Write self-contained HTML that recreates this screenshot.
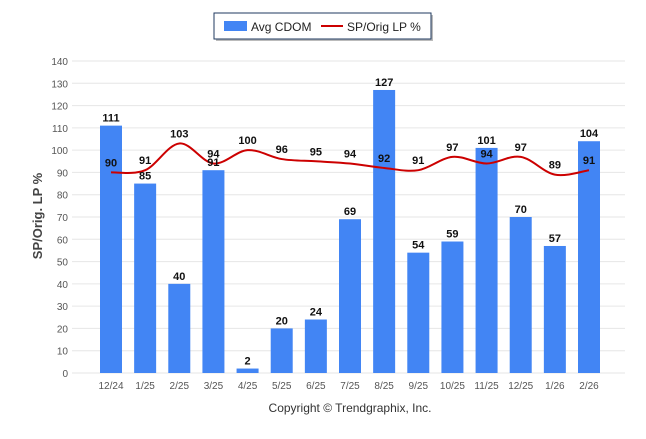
<!DOCTYPE html>
<html><head><meta charset="utf-8"><style>
body{margin:0;background:#fff;width:646px;height:434px;overflow:hidden;font-family:"Liberation Sans",sans-serif}
</style></head><body>
<svg width="646" height="434" xmlns="http://www.w3.org/2000/svg">
<g>
<rect x="216" y="15" width="217" height="26" fill="#bbb"/>
<rect x="214" y="13" width="217" height="26" fill="#fff" stroke="#1f3a5f" stroke-width="1"/>
<rect x="224" y="21" width="23" height="10" fill="#4285f4"/>
<text x="251" y="31" font-size="12" fill="#222">Avg CDOM</text>
<line x1="321" y1="26" x2="343" y2="26" stroke="#cc0000" stroke-width="2"/>
<text x="347" y="31" font-size="12" fill="#222">SP/Orig LP %</text>
</g>
<g id="grid"></g><g id="bars"></g><g id="line"></g><g id="labels"></g>
<text transform="translate(42,216) rotate(-90)" text-anchor="middle" font-size="13" font-weight="bold" fill="#444">SP/Orig. LP %</text>
<text x="350" y="412" text-anchor="middle" font-size="12" fill="#333">Copyright © Trendgraphix, Inc.</text>
</svg>
<script>
const categories=["12/24","1/25","2/25","3/25","4/25","5/25","6/25","7/25","8/25","9/25","10/25","11/25","12/25","1/26","2/26"];
const cdom=[111,85,40,91,2,20,24,69,127,54,59,101,70,57,104];
const lp=[90,91,103,94,100,96,95,94,92,91,97,94,97,89,91];
const yTicks=[0,10,20,30,40,50,60,70,80,90,100,110,120,130,140];
const NS="http://www.w3.org/2000/svg";
const y=v=>373-v*312/140;
const x=i=>111+i*(478/14);
function mk(t,a,p){const e=document.createElementNS(NS,t);for(const k in a)e.setAttribute(k,a[k]);p.appendChild(e);return e;}
const g=document.getElementById('grid'),b=document.getElementById('bars'),l=document.getElementById('line'),lb=document.getElementById('labels');
yTicks.forEach(v=>{
 const ln=mk('line',{x1:72,x2:625,y1:y(v),y2:y(v),stroke:'#e6e6e6','stroke-width':1},g);
 
 
 const t=mk('text',{x:68,y:y(v)+4,'text-anchor':'end','font-size':10,fill:'#555'},g);t.textContent=v;
 
 
});
categories.forEach((c,i)=>{
 const t=mk('text',{x:x(i),y:389,'text-anchor':'middle','font-size':10,fill:'#555'},g);t.textContent=c;
 
 
 const r=mk('rect',{x:x(i)-11,y:y(cdom[i]),width:22,height:y(0)-y(cdom[i]),fill:'#4285f4'},b);
 
 
 const bt=mk('text',{x:x(i),y:y(cdom[i])-4,'text-anchor':'middle','font-size':11,'font-weight':'bold',fill:'#111'},lb);bt.textContent=cdom[i];
 
 
 const lt=mk('text',{x:x(i),y:y(lp[i])-6,'text-anchor':'middle','font-size':11,'font-weight':'bold',fill:'#111'},lb);lt.textContent=lp[i];
 
 
});
const pts=lp.map((v,i)=>[x(i),y(v)]);
let d='M'+pts[0][0]+','+pts[0][1];
for(let i=0;i<pts.length-1;i++){
 const p0=pts[i-1]||pts[i],p1=pts[i],p2=pts[i+1],p3=pts[i+2]||p2;
 const c1=[p1[0]+(p2[0]-p0[0])/6,p1[1]+(p2[1]-p0[1])/6],c2=[p2[0]-(p3[0]-p1[0])/6,p2[1]-(p3[1]-p1[1])/6];
 d+=` C${c1[0]},${c1[1]} ${c2[0]},${c2[1]} ${p2[0]},${p2[1]}`;
}
const path=mk('path',{d:d,fill:'none',stroke:'#cc0000','stroke-width':2},l);


</script>
</body></html>
